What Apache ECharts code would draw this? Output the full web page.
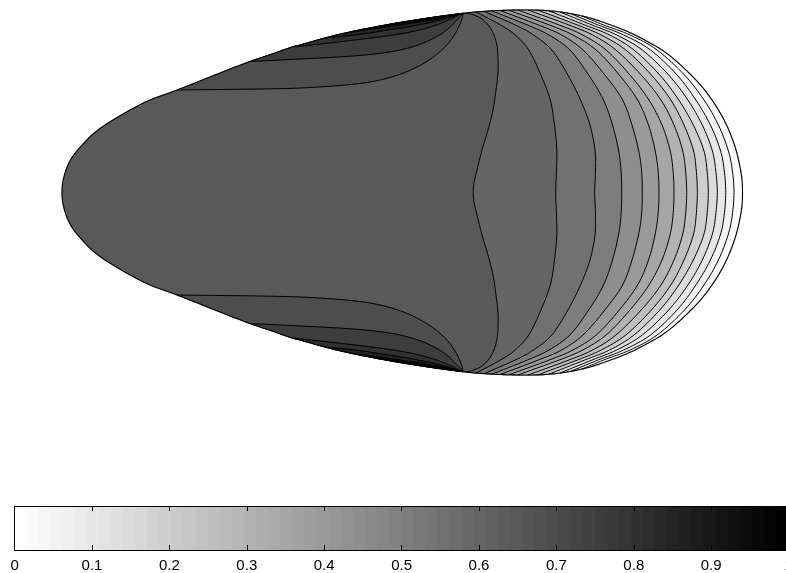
<!DOCTYPE html>
<html><head><meta charset="utf-8">
<script src="https://cdn.jsdelivr.net/npm/echarts@6/dist/echarts.min.js"></script>
<style>html,body{margin:0;padding:0;background:#fff}#c{width:786px;height:573px}</style>
</head><body><div id="c"></div>
<script>
// ---- data (chart units: x along body, y across, symmetric about y=0) ----
// upper half of body outline, nose -> right tip
const boundaryUpper = [[0,0],[0.02,0.55],[0.1,1.15],[0.4,2.25],[0.8,3.15],[1.4,4.05],[2.2,4.95],[3.1,5.85],[4.3,6.75],[5.6,7.55],[7.0,8.35],[8.8,9.25],[11.5,10.25],[13.8,11.15],[16.3,12.15],[18.8,13.1],[21.3,13.95],[23.0,14.55],[23.8,14.75],[26.3,15.45],[28.8,16.05],[31.3,16.55],[33.8,17.0],[36.3,17.4],[38.8,17.75],[40.1,17.92],[41.3,18.05],[42.8,18.15],[43.8,18.2],[45.3,18.24],[46.8,18.25],[48.3,18.2],[49.8,18.05],[51.3,17.8],[52.8,17.45],[54.3,16.95],[55.8,16.4],[57.3,15.75],[58.8,14.95],[60.0,14.25],[61.3,13.25],[62.8,11.85],[64.1,10.45],[65.2,8.95],[66.1,7.45],[66.8,5.95],[67.4,4.25],[67.8,2.55],[68.0,1.25],[68.05,0]];

// contour lines on the right part (upper half, from the axis y=0 up to the wall)
const c065 = [[41.13,0],[41.2,0.95],[41.5,2.25],[42.0,4.25],[42.6,6.25],[43.1,8.25],[43.4,10.25],[43.6,12.05],[43.6,13.45],[43.5,14.65],[43.2,15.75],[42.7,16.65],[42.0,17.35],[41.2,17.75],[40.4,17.97]];
const c060 = [[49.37,0],[49.45,2.25],[49.48,4.25],[49.25,6.75],[48.83,9.25],[47.89,11.75],[46.68,14.25],[45.32,15.75],[43.86,16.75],[41.4,18.06]];
const c055 = [[53.27,0],[53.35,2.25],[53.3,4.25],[52.8,6.75],[51.85,9.25],[50.59,11.75],[48.98,14.25],[47.15,15.75],[45.33,16.75],[42.2,18.12]];
const c050 = [[55.97,0],[55.9,2.25],[55.65,4.25],[55.05,6.75],[54.15,9.25],[52.67,11.75],[50.79,14.25],[48.7,15.75],[46.55,16.75],[43.0,18.16]];
const c045 = [[58.03,0],[57.95,2.25],[57.65,4.25],[57.0,6.75],[56.06,9.25],[54.29,11.75],[52.1,14.25],[49.97,15.75],[47.65,16.75],[43.8,18.2]];
const c040 = [[59.7,0],[59.6,2.25],[59.3,4.25],[58.65,6.75],[57.56,9.25],[55.73,11.75],[53.42,14.25],[51.1,15.75],[48.74,16.75],[44.7,18.22]];
const c035 = [[61.2,0],[61.1,2.25],[60.8,4.25],[60.0,6.75],[58.7,9.25],[56.8,11.75],[54.41,14.25],[52.08,15.75],[49.72,16.75],[45.6,18.24]];
const c030 = [[62.47,0],[62.35,2.25],[62.05,4.25],[61.2,6.75],[59.9,9.25],[57.92,11.75],[55.39,14.25],[53.07,15.75],[50.7,16.75],[46.6,18.25]];
const c025 = [[63.53,0],[63.42,2.25],[63.13,4.25],[62.2,6.75],[60.88,9.25],[58.94,11.75],[56.38,14.25],[53.92,15.75],[51.55,16.75],[47.6,18.23]];
const c020 = [[64.63,0],[64.5,2.25],[64.17,4.25],[63.13,6.75],[61.68,9.25],[59.78,11.75],[57.2,14.25],[54.76,15.75],[52.28,16.75],[48.7,18.16]];
const c015 = [[65.53,0],[65.37,2.25],[65.01,4.25],[64.03,6.75],[62.59,9.25],[60.67,11.75],[58.03,14.25],[55.47,15.75],[53.01,16.75],[49.8,18.05]];
const c010 = [[66.37,0],[66.22,2.25],[65.83,4.25],[64.84,6.75],[63.39,9.25],[61.51,11.75],[58.85,14.25],[56.17,15.75],[53.62,16.75],[50.9,17.87]];
const c005 = [[67.2,0],[67.03,2.25],[66.61,4.25],[65.64,6.75],[64.2,9.25],[62.25,11.75],[59.51,14.25],[56.81,15.75],[54.17,16.75],[52.0,17.65]];
const rightLevels = [0.65,0.60,0.55,0.50,0.45,0.40,0.35,0.30,0.25,0.20,0.15,0.10,0.05];
const rightLines  = [c065,c060,c055,c050,c045,c040,c035,c030,c025,c020,c015,c010,c005];
const outerBandValue = 0.02;

// contour lines near the wall (upper half, from the wall to the convergence point)
const d070 = [[11.5,10.25],[15.8,10.3],[19.8,10.35],[23.8,10.45],[27.8,10.7],[30.8,11.05],[33.3,11.65],[35.3,12.45],[37.0,13.45],[38.4,14.65],[39.3,15.85],[39.8,16.85],[40.05,17.55],[40.1,17.92]];
const d075 = [[18.8,13.1],[22.8,13.3],[26.8,13.5],[30.3,13.75],[33.3,14.15],[35.6,14.75],[37.4,15.55],[38.6,16.35],[39.4,17.15],[39.9,17.65],[40.1,17.92]];
const d080 = [[23.0,14.55],[25.8,14.85],[29.3,15.25],[32.8,15.7],[35.3,16.15],[37.3,16.7],[38.8,17.3],[39.6,17.7],[40.1,17.92]];
const d085 = [[26.3,15.45],[29.3,15.75],[32.3,16.2],[34.8,16.6],[36.8,17.0],[38.4,17.4],[39.4,17.7],[40.1,17.92]];
const d090 = [[28.8,16.05],[31.8,16.45],[34.8,16.9],[37.3,17.3],[39.0,17.65],[40.1,17.92]];
const d095 = [[31.3,16.55],[34.3,16.97],[36.8,17.35],[38.8,17.65],[40.1,17.92]];
const darkLevels = [0.70,0.75,0.80,0.85,0.90,0.95];
const darkLines  = [d070,d075,d080,d085,d090,d095];

// colorbar
const colorbarTicks = [0,0.1,0.2,0.3,0.4,0.5,0.6,0.7,0.8,0.9,1];
const colormapSize = 64;

// ---- helpers ----
function grayOf(v){
  const k = Math.max(0, Math.min(Math.floor(v*colormapSize), colormapSize-1));
  const g = Math.round(255*(1 - k/(colormapSize-1)));
  return 'rgb('+g+','+g+','+g+')';
}
const mirror = pts => pts.map(p => [p[0], -p[1]]);
// Catmull-Rom rendering of a curve through the read points (drawing only)
function spline(pts, prev, next, n){
  n = n || 8;
  const P = [prev || pts[0]].concat(pts, [next || pts[pts.length-1]]);
  const out = [pts[0]];
  for (let i = 1; i < P.length - 2; i++){
    const p0 = P[i-1], p1 = P[i], p2 = P[i+1], p3 = P[i+2];
    for (let s = 1; s <= n; s++){
      const t = s/n, t2 = t*t, t3 = t2*t;
      const f = k => 0.5*((2*p1[k]) + (-p0[k]+p2[k])*t + (2*p0[k]-5*p1[k]+4*p2[k]-p3[k])*t2 + (-p0[k]+3*p1[k]-3*p2[k]+p3[k])*t3);
      out.push([f(0), f(1)]);
    }
  }
  return out;
}
const axisHalf = pts => spline(pts, [pts[1][0], -pts[1][1]], null);

const bUp = spline(boundaryUpper, [boundaryUpper[1][0], -boundaryUpper[1][1]],
                   [boundaryUpper[boundaryUpper.length-2][0], -boundaryUpper[boundaryUpper.length-2][1]]);
const tip = bUp[bUp.length-1];
const rightS = rightLines.map(axisHalf);
const darkS = darkLines.map(l => spline(l));

function fullLine(up){ return mirror(up).reverse().concat(up.slice(1)); }
function rightRegion(up){
  const end = up[up.length-1];
  const tail = bUp.filter(p => p[0] > end[0] && p[1] > 0);
  return up.slice().reverse()
    .concat(mirror(up).slice(1))
    .concat(mirror(tail))
    .concat([tip])
    .concat(tail.slice().reverse());
}
function darkRegion(line){
  const s = line[0], e = line[line.length-1];
  const seg = bUp.filter(p => p[0] > s[0] && p[0] < e[0]);
  return line.concat(seg.slice().reverse());
}

const elements = [];
const fullShape = bUp.concat(mirror(bUp).reverse().slice(1));
elements.push({pts: fullShape, fill: grayOf(0.65)});
rightS.forEach((ln, i) => {
  const v = i + 1 < rightLevels.length ? rightLevels[i+1] : outerBandValue;
  elements.push({pts: rightRegion(ln), fill: grayOf(v)});
});
darkS.forEach((ln, i) => {
  const r = darkRegion(ln);
  elements.push({pts: r, fill: grayOf(darkLevels[i])});
  elements.push({pts: mirror(r), fill: grayOf(darkLevels[i])});
});
rightS.forEach(ln => elements.push({pts: fullLine(ln), line: true}));
darkS.forEach(ln => { elements.push({pts: ln, line: true}); elements.push({pts: mirror(ln), line: true}); });
elements.push({pts: fullShape, outline: true});

const cbData = [];
for (let k = 0; k < colormapSize; k++) cbData.push([k/colormapSize, 0.5, k]);

const chart = echarts.init(document.getElementById('c'), null, {renderer: 'canvas'});
const labelFont = {fontFamily: '"Liberation Sans", Arial, sans-serif', fontSize: 15, color: '#000'};
chart.setOption({
  animation: false,
  backgroundColor: '#fff',
  grid: [
    {left: 62, top: 10, width: 690, height: 365, outerBoundsMode: 'none'},
    {left: 14.6, top: 506, width: 774, height: 44, outerBoundsMode: 'none', containLabel: false}
  ],
  xAxis: [
    {gridIndex: 0, type: 'value', min: 0, max: 69, show: false},
    {gridIndex: 1, type: 'value', min: 0, max: 1, interval: 0.1, position: 'bottom', z: 10,
      axisLine: {show: true, lineStyle: {color: '#000', width: 1}},
      axisTick: {show: true, inside: true, length: 5, lineStyle: {color: '#000'}},
      axisLabel: Object.assign({show: true, margin: 8, showMinLabel: true, showMaxLabel: true,
        customValues: colorbarTicks}, labelFont),
      splitLine: {show: false}},
    {gridIndex: 1, type: 'value', min: 0, max: 1, interval: 0.1, position: 'top', z: 10,
      axisLine: {show: true, lineStyle: {color: '#000', width: 1}},
      axisTick: {show: true, inside: true, length: 5, lineStyle: {color: '#000'}},
      axisLabel: {show: false}, splitLine: {show: false}}
  ],
  yAxis: [
    {gridIndex: 0, type: 'value', min: -18.25, max: 18.25, show: false},
    {gridIndex: 1, type: 'value', min: 0, max: 1, z: 10,
      axisLine: {show: true, lineStyle: {color: '#000', width: 1}},
      axisTick: {show: false}, axisLabel: {show: false}, splitLine: {show: false}}
  ],
  series: [
    {
      type: 'custom', xAxisIndex: 0, yAxisIndex: 0, clip: false,
      data: elements.map(e => [e.pts[0][0], e.pts[0][1]]),
      renderItem: (params, api) => {
        const el = elements[params.dataIndex];
        const pts = el.pts.map(p => api.coord(p));
        if (el.fill) return {type: 'polygon', shape: {points: pts}, style: {fill: el.fill, stroke: el.fill, lineWidth: 0.6}};
        if (el.outline) return {type: 'polygon', shape: {points: pts}, style: {fill: 'none', stroke: '#000', lineWidth: 1.1}};
        return {type: 'polyline', shape: {points: pts}, style: {fill: 'none', stroke: '#000', lineWidth: 1}};
      }
    },
    {
      type: 'custom', xAxisIndex: 1, yAxisIndex: 1, clip: true,
      data: cbData,
      renderItem: (params, api) => {
        const k = api.value(2);
        const p0 = api.coord([k/colormapSize, 1]);
        const p1 = api.coord([(k+1)/colormapSize, 0]);
        const g = Math.round(255*(1 - k/(colormapSize-1)));
        const c = 'rgb('+g+','+g+','+g+')';
        const x0 = Math.floor(p0[0]);
        const x1 = k === colormapSize - 1 ? Math.ceil(p1[0]) + 2 : Math.ceil(p1[0]) + 1;
        return {type: 'rect', shape: {x: x0, y: p0[1], width: x1 - x0, height: p1[1]-p0[1]}, style: {fill: c, stroke: null}};
      }
    }
  ]
});
</script>
</body></html>
